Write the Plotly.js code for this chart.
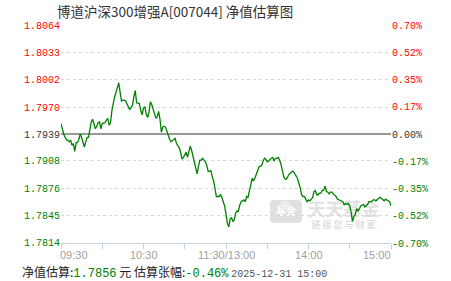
<!DOCTYPE html>
<html>
<head>
<meta charset="utf-8">
<script src="https://cdn.plot.ly/plotly-3.0.1.min.js"></script>
<style>
html,body{margin:0;padding:0;background:#fff;}
#chart{width:451px;height:281px;}
</style>
</head>
<body>
<div id="chart"></div>
<script>
// ---- data ----
const titleText = '博道沪深300增强A[007044] 净值估算图';
const baseNav = 1.7939;      // previous NAV (0.00%)
const maxPct = 0.70;         // axis half-range in percent
const timeTickMinutes = [0, 30, 60, 90, 120, 150, 180, 210, 240];
const timeLabelMinutes = [0, 60, 120, 180, 240];
const timeLabels = ['09:30', '10:30', '11:30/13:00', '14:00', '15:00'];
const navTicks = [1.7814, 1.7845, 1.7876, 1.7908, 1.7939, 1.7970, 1.8002, 1.8033, 1.8064];
const pctTicks = [-0.70, -0.525, -0.35, -0.175, 0, 0.175, 0.35, 0.525, 0.70];
const pctLabels = ['-0.70%', '-0.52%', '-0.35%', '-0.17%', '0.00%', '0.17%', '0.35%', '0.52%', '0.70%'];
const navValues = [
1.7951,1.7944,1.7939,1.7935,1.7932,1.7932,1.7930,1.7932,1.7926,1.7928,
1.7919,1.7929,1.7929,1.7933,1.7939,1.7935,1.7930,1.7924,1.7930,1.7935,
1.7935,1.7947,1.7953,1.7956,1.7949,1.7945,1.7948,1.7952,1.7953,1.7945,
1.7951,1.7952,1.7952,1.7955,1.7957,1.7949,1.7952,1.7966,1.7975,1.7982,
1.7987,1.7993,1.7998,1.7987,1.7977,1.7978,1.7978,1.7977,1.7974,1.7970,
1.7967,1.7970,1.7972,1.7982,1.7989,1.7975,1.7974,1.7974,1.7966,1.7961,
1.7969,1.7970,1.7962,1.7958,1.7964,1.7976,1.7973,1.7968,1.7962,1.7957,
1.7959,1.7965,1.7956,1.7941,1.7947,1.7948,1.7947,1.7942,1.7939,1.7933,
1.7930,1.7931,1.7932,1.7934,1.7928,1.7925,1.7923,1.7918,1.7910,1.7912,
1.7915,1.7918,1.7912,1.7919,1.7925,1.7920,1.7913,1.7907,1.7901,1.7893,
1.7902,1.7909,1.7909,1.7911,1.7909,1.7907,1.7903,1.7896,1.7896,1.7897,
1.7890,1.7885,1.7876,1.7867,1.7867,1.7867,1.7869,1.7866,1.7861,1.7856,
1.7847,1.7836,1.7832,1.7841,1.7843,1.7838,1.7840,1.7848,1.7850,1.7850,
1.7857,1.7861,1.7862,1.7863,1.7861,1.7867,1.7866,1.7872,1.7880,1.7888,
1.7885,1.7888,1.7892,1.7896,1.7901,1.7902,1.7903,1.7908,1.7911,1.7910,
1.7907,1.7908,1.7910,1.7911,1.7912,1.7908,1.7911,1.7911,1.7912,1.7909,
1.7904,1.7896,1.7890,1.7887,1.7887,1.7890,1.7893,1.7894,1.7896,1.7896,
1.7893,1.7890,1.7888,1.7882,1.7877,1.7869,1.7867,1.7867,1.7863,1.7861,
1.7863,1.7862,1.7864,1.7866,1.7873,1.7874,1.7869,1.7869,1.7871,1.7871,
1.7874,1.7874,1.7879,1.7873,1.7872,1.7870,1.7872,1.7872,1.7870,1.7869,
1.7867,1.7864,1.7863,1.7862,1.7862,1.7861,1.7857,1.7859,1.7858,1.7859,
1.7856,1.7849,1.7838,1.7844,1.7846,1.7853,1.7850,1.7854,1.7856,1.7857,
1.7858,1.7855,1.7856,1.7858,1.7861,1.7861,1.7861,1.7863,1.7863,1.7862,
1.7863,1.7864,1.7866,1.7865,1.7863,1.7862,1.7864,1.7863,1.7863,1.7861,1.7856
];
const latestNav = '1.7856';
const latestPct = '-0.46%';
const latestTime = '2025-12-31 15:00';
const brandName = '天天基金';
const brandSlogan = '链 接 您 与 财 富';
const logoText = '基金';

// ---- styling helpers ----
const RED = '#ff0000', GREEN = '#008000', DARK = '#333333';
function colorFor(sign){ return sign > 0 ? RED : (sign < 0 ? GREEN : DARK); }
const minutes = navValues.map((v, i) => i);
const navText = navTicks.map(v => '<span style="color:' + colorFor(v - baseNav) + '">' + v.toFixed(4) + '</span>');
const pctText = pctTicks.map((v, i) => '<span style="color:' + colorFor(v) + '">' + pctLabels[i] + '</span>');

const traces = [
  {x: minutes, y: navValues, type: 'scatter', mode: 'lines',
   line: {color: GREEN, width: 1.3}, hoverinfo: 'skip', xaxis: 'x', yaxis: 'y'},
  {x: [], y: [], type: 'scatter', mode: 'lines', xaxis: 'x', yaxis: 'y2', hoverinfo: 'skip'}
];

const monoFont = 'Liberation Mono, DejaVu Sans Mono, monospace';
const cjkFont = 'Noto Sans CJK SC, sans-serif';

const annotations = timeLabelMinutes.map((m, i) => ({
  x: m, xref: 'x', y: -0.055, yref: 'paper',
  text: timeLabels[i], showarrow: false,
  xanchor: i === 0 ? 'left' : (i === timeLabels.length - 1 ? 'right' : 'center'),
  xshift: i === 0 ? -3 : (i === timeLabels.length - 1 ? 2 : 0),
  yanchor: 'middle',
  font: {family: 'Liberation Sans, Arial, sans-serif', size: 11, color: '#a0a0a0'}
}));
annotations.push({
  x: -0.1242, xref: 'paper', y: -0.131, yref: 'paper', xanchor: 'left', yanchor: 'middle',
  showarrow: false, align: 'left',
  text: '净值估算:<span style="color:' + GREEN + ';font-family:' + monoFont + '">' + latestNav + '</span> 元 估算张幅:' +
        '<span style="color:' + GREEN + ';font-family:' + monoFont + '">' + latestPct + '</span> ' +
        '<span style="color:#555;font-family:' + monoFont + ';font-size:10px">' + latestTime + '</span>',
  font: {family: cjkFont, size: 12, color: '#222'}
});

const shapes = [
  {type: 'path', xref: 'paper', yref: 'paper', layer: 'below',
   path: 'M 0.645 0.197 L 0.718 0.197 Q 0.730 0.197 0.730 0.179 L 0.730 0.110 Q 0.730 0.092 0.718 0.092 L 0.645 0.092 Q 0.633 0.092 0.633 0.110 L 0.633 0.179 Q 0.633 0.197 0.645 0.197 Z',
   fillcolor: '#e0e0e0', line: {width: 0},
   label: {text: '<b>' + logoText + '</b>', textposition: 'bottom center', font: {family: cjkFont, size: 10, color: '#ffffff'}}},
  {type: 'circle', xref: 'paper', yref: 'paper', layer: 'below',
   x0: 0.666, x1: 0.694, y0: 0.152, y1: 0.193, fillcolor: '#efefef', line: {width: 0}},
  {type: 'rect', xref: 'paper', yref: 'paper', layer: 'below',
   x0: 0.745, x1: 0.967, y0: 0.112, y1: 0.183, fillcolor: 'rgba(0,0,0,0)', line: {width: 0},
   label: {text: '<b>' + brandName + '</b>', textposition: 'middle center', font: {family: cjkFont, size: 18, color: '#e2e2e2'}}},
  {type: 'rect', xref: 'paper', yref: 'paper', layer: 'below',
   x0: 0.745, x1: 0.967, y0: 0.064, y1: 0.101, fillcolor: 'rgba(0,0,0,0)', line: {width: 0},
   label: {text: brandSlogan, textposition: 'middle center', font: {family: cjkFont, size: 9, color: '#d2d2d2'}}}
];

const layout = {
  width: 451, height: 281,
  margin: {l: 61, r: 60, t: 25, b: 38, pad: 0},
  paper_bgcolor: '#ffffff', plot_bgcolor: '#ffffff',
  showlegend: false,
  title: {text: titleText, x: 57 / 451, xanchor: 'left', xref: 'container',
          y: 1 - 12 / 281, yanchor: 'middle', yref: 'container',
          font: {family: cjkFont, size: 13.5, color: '#333333'}},
  xaxis: {range: [0, 240], tickvals: timeTickMinutes, showticklabels: false,
          ticks: 'outside', ticklen: 5, tickcolor: '#c3d1de', tickwidth: 1,
          showline: true, linecolor: '#c3d1de', linewidth: 1,
          showgrid: false, zeroline: false, fixedrange: true},
  yaxis: {range: [baseNav * (1 - maxPct / 100), baseNav * (1 + maxPct / 100)],
          tickvals: navTicks, ticktext: navText, ticks: '',
          tickfont: {family: monoFont, size: 10, color: DARK},
          showgrid: true, gridcolor: '#d8d8d8', griddash: 'dot', gridwidth: 1,
          zeroline: false, showline: false, fixedrange: true},
  yaxis2: {overlaying: 'y', side: 'right', range: [-maxPct, maxPct],
           tickvals: pctTicks, ticktext: pctText, ticks: '',
           tickfont: {family: monoFont, size: 10, color: DARK},
           showgrid: false, zeroline: true, zerolinecolor: '#999999', zerolinewidth: 1.5,
           showline: false, fixedrange: true},
  annotations: annotations,
  shapes: shapes
};

Plotly.newPlot('chart', traces, layout, {staticPlot: true, displayModeBar: false});
</script>
</body>
</html>
